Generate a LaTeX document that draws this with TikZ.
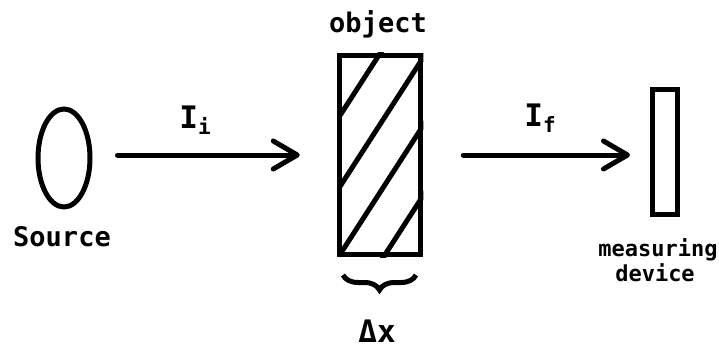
\documentclass[tikz,border=0pt]{standalone}
\usepackage{fontspec}
\setmonofont{DejaVu Sans Mono}
\usetikzlibrary{arrows.meta,shapes.geometric,decorations.pathreplacing}

% subscript of the intensity labels
\newcommand{\beamsub}[1]{\raisebox{-6pt}{\fontsize{21}{21}\selectfont #1}}

\begin{document}
\begin{tikzpicture}[x=1pt, y=-1pt, line width=5pt,
    lbl/.style={font=\ttfamily\bfseries\fontsize{27}{27}\selectfont, inner sep=0pt},
    smalllbl/.style={font=\ttfamily\bfseries\fontsize{22}{22}\selectfont, inner sep=0pt},
    intens/.style={font=\ttfamily\bfseries\fontsize{31}{31}\selectfont, inner sep=0pt},
    beam/.style={-{Straight Barb[length=24pt,width=28pt,line cap=round,line join=round]}, line cap=round}]
    \useasboundingbox (0,0) rectangle (719,350);

    % Source on the left
    \node[draw, ellipse, inner sep=0pt, minimum width=52pt, minimum height=98pt] (source) at (64,158) {};
    \node[lbl] (srclbl) at (62,237) {Source};

    % Object with the hatching
    \node[draw, rectangle, line width=5.5pt, inner sep=0pt, minimum width=81pt, minimum height=199pt] (object) at (380,155) {};
    \begin{scope}
        \clip (object.south west) rectangle (object.north east);
        \foreach \yy in {117, 188, 256, 326}
            \draw (339,\yy) -- ++(100,-155);
    \end{scope}
    \node[lbl] (objlbl) at (378,24) {object};

    % Thickness brace under the object
    \draw[decorate, decoration={brace, amplitude=15pt, mirror}] (343,275) -- (416,275);
    \node[intens] (dx) at (377,331) {Δx};

    % Measuring device on the right
    \node[draw, rectangle, inner sep=0pt, minimum width=25pt, minimum height=125pt] (device) at (665,152) {};
    \node[smalllbl] (devlbl1) at (658,250) {measuring};
    \node[smalllbl] (devlbl2) at (655,273) {device};

    % Incoming and outgoing beams
    \draw[beam, shorten <=25pt, shorten >=37pt] (source.east |- object.west) -- (object.west);
    \draw[beam, shorten <=40pt, shorten >=20pt] (object.east) -- (object.east -| device.west);
    \node[intens] (Ii) at (195,120) {I\beamsub{i}};
    \node[intens] (If) at (540,118) {I\beamsub{f}};
\end{tikzpicture}
\end{document}
